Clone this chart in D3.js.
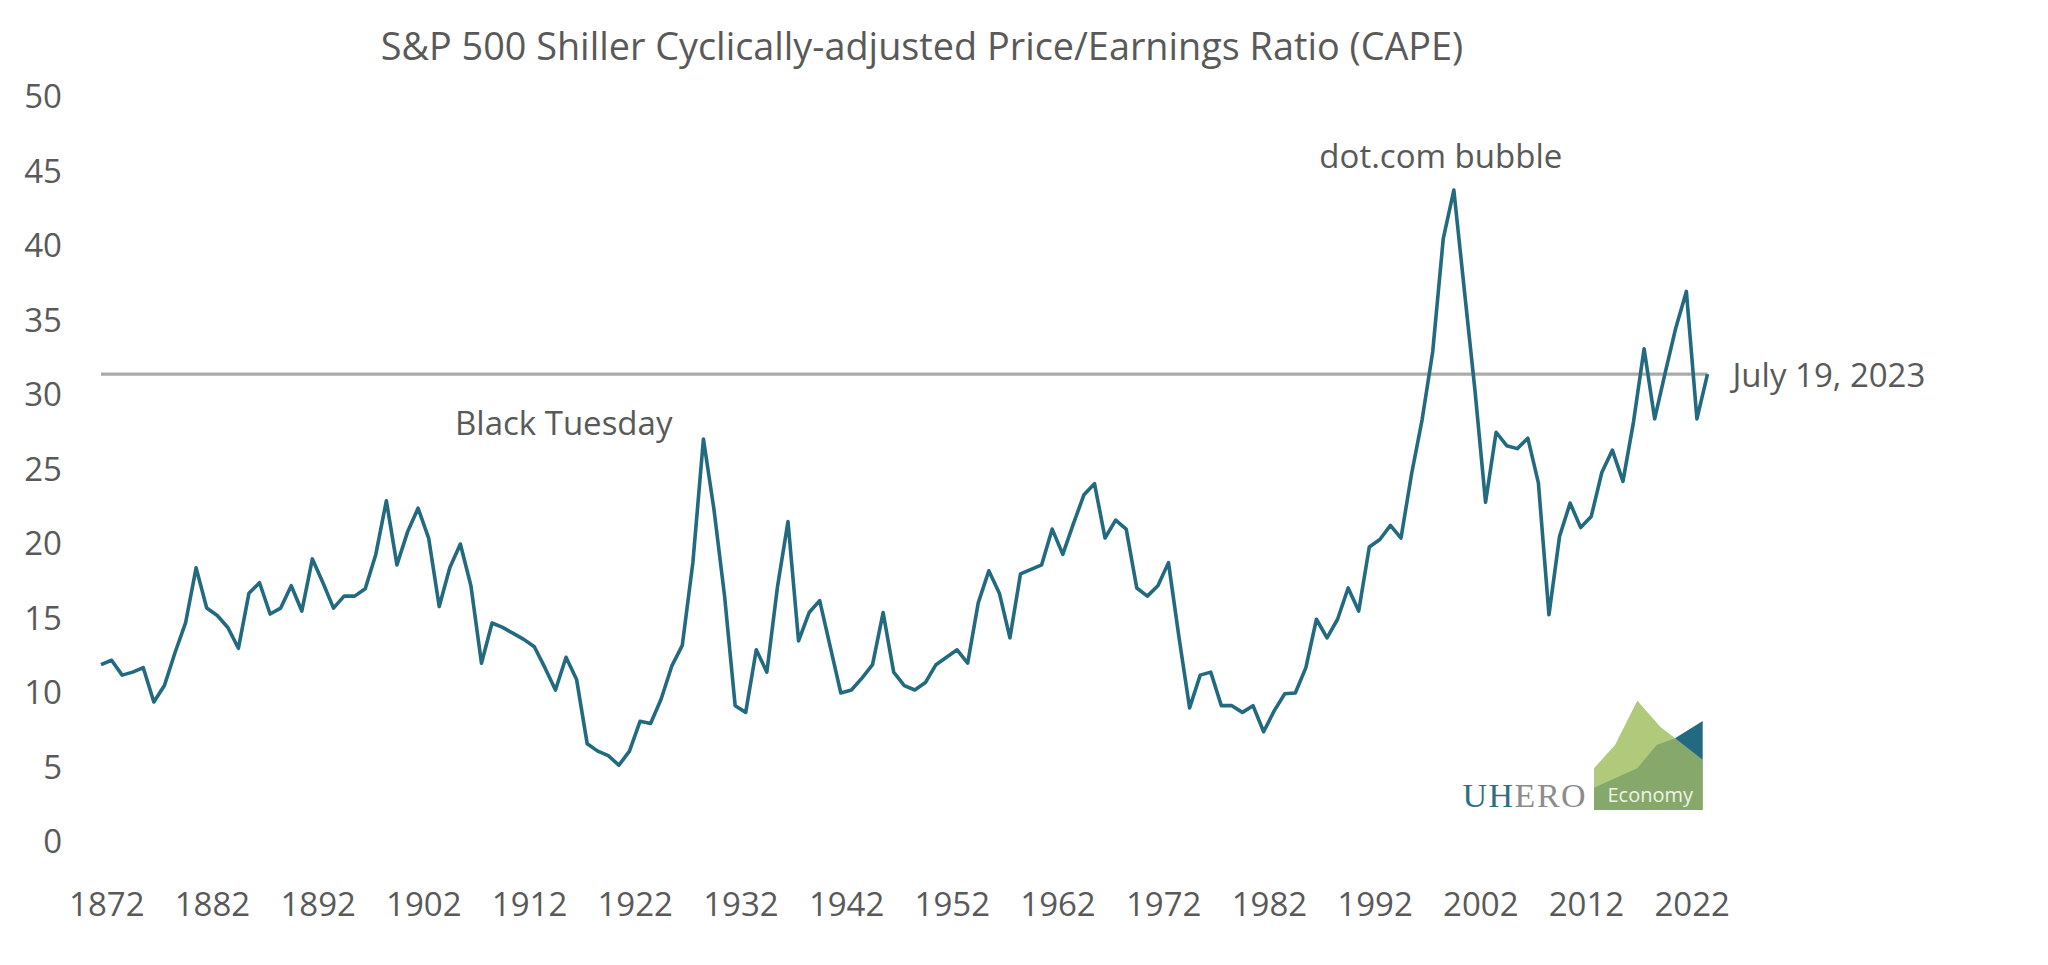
<!DOCTYPE html>
<html><head><meta charset="utf-8">
<script src="https://cdn.jsdelivr.net/npm/d3@7"></script>
<style>
body{margin:0;background:#fff}
svg{display:block}
text{font-family:"Open Sans",sans-serif}
</style>
</head><body>
<svg id="chart" width="2048" height="965"></svg>
<script>
// ---- data ----
const years = d3.range(1872, 2024).map(String);
const categories = years.concat(["July 19, 2023"]);
const cape = [
  11.9, 12.2, 11.2, 11.4, 11.7, 9.4, 10.5, 12.7, 14.7, 18.4,
  15.7, 15.2, 14.4, 13.0, 16.7, 17.4, 15.3, 15.7, 17.2, 15.5,
  19.0, 17.4, 15.7, 16.5, 16.5, 17.0, 19.3, 22.9, 18.6, 20.8,
  22.4, 20.4, 15.8, 18.4, 20.0, 17.2, 12.0, 14.7, 14.4, 14.0,
  13.6, 13.1, 11.7, 10.2, 12.4, 10.9, 6.6, 6.1, 5.8, 5.15,
  6.1, 8.1, 7.95, 9.6, 11.8, 13.2, 18.75, 27.05, 22.3, 16.5,
  9.15, 8.7, 12.9, 11.4, 17.1, 21.5, 13.5, 15.4, 16.2, 13.1,
  10.0, 10.2, 11.0, 11.9, 15.4, 11.4, 10.5, 10.2, 10.7, 11.9,
  12.4, 12.9, 12.0, 16.05, 18.2, 16.7, 13.7, 18.0, 18.3, 18.6,
  21.0, 19.3, 21.35, 23.3, 24.05, 20.4, 21.6, 21.0, 17.05, 16.5,
  17.2, 18.75, 13.7, 9.0, 11.2, 11.4, 9.15, 9.15, 8.7, 9.15,
  7.4, 8.8, 9.95, 10.0, 11.7, 14.95, 13.7, 14.95, 17.05, 15.5,
  19.8, 20.3, 21.25, 20.4, 24.7, 28.35, 32.9, 40.5, 43.75, 37.0,
  30.3, 22.8, 27.5, 26.6, 26.4, 27.1, 24.1, 15.25, 20.5, 22.75,
  21.1, 21.85, 24.8, 26.3, 24.2, 28.2, 33.1, 28.4, 31.5, 34.5,
  36.95, 28.4,
  31.4
];
const yTicks = [0, 5, 10, 15, 20, 25, 30, 35, 40, 45, 50];
const xTickLabels = ["1872","1882","1892","1902","1912","1922","1932","1942","1952","1962","1972","1982","1992","2002","2012","2022"];
const title = "S&P 500 Shiller Cyclically-adjusted Price/Earnings Ratio (CAPE)";
const blackTuesdayLabel = "Black Tuesday";
const blackTuesdayYear = "1929";
const dotcomLabel = "dot.com bubble";
const dotcomYear = "2000";

// ---- drawing ----
const svg = d3.select("#chart");
const textColor = "#595959";
const lineColor = "#226a80";

const x = d3.scaleLinear().domain([0, categories.length - 1]).range([101, 1707.5]);
const y = d3.scaleLinear().domain([0, 50]).range([842, 97]);

svg.append("rect").attr("width", 2048).attr("height", 965).attr("fill", "#fff");

// title
svg.append("text")
  .attr("x", 922).attr("y", 60)
  .attr("text-anchor", "middle")
  .attr("font-size", "37.8px")
  .attr("fill", textColor)
  .text(title);

// y axis
const yAxis = svg.append("g").attr("transform", "translate(62,0)")
  .call(d3.axisLeft(y).tickValues(yTicks).tickSize(0).tickPadding(0).tickFormat(d3.format("d")));
yAxis.select(".domain").remove();
yAxis.selectAll("text").attr("font-size", "33px").attr("fill", textColor)
  .style("font-family", '"Open Sans", sans-serif');

// x axis (labels centred half a category to the right of the point)
const xAxis = svg.append("g").attr("transform", "translate(0,893)")
  .call(d3.axisBottom(x)
    .tickValues(xTickLabels.map(l => categories.indexOf(l) + 0.5))
    .tickFormat(v => categories[Math.floor(v)])
    .tickSize(0).tickPadding(0));
xAxis.select(".domain").remove();
xAxis.selectAll("text").attr("font-size", "33px").attr("fill", textColor)
  .style("font-family", '"Open Sans", sans-serif');

// reference line at latest value
const last = cape.length - 1;
svg.append("line")
  .attr("x1", x(0)).attr("x2", x(last))
  .attr("y1", y(cape[last])).attr("y2", y(cape[last]))
  .attr("stroke", "#ababab").attr("stroke-width", 3.2);

// series line
const line = d3.line().x((d, i) => x(i)).y(d => y(d));
svg.append("path")
  .datum(cape)
  .attr("d", line)
  .attr("fill", "none")
  .attr("stroke", lineColor)
  .attr("stroke-width", 3.6)
  .attr("stroke-linejoin", "round");

// annotations
const iBT = categories.indexOf(blackTuesdayYear);
svg.append("text")
  .attr("x", x(iBT) - 31).attr("y", y(cape[iBT]) - 4)
  .attr("text-anchor", "end").attr("font-size", "33px").attr("fill", textColor)
  .text(blackTuesdayLabel);

const iDC = categories.indexOf(dotcomYear);
svg.append("text")
  .attr("x", x(iDC) - 13).attr("y", y(cape[iDC]) - 22)
  .attr("text-anchor", "middle").attr("font-size", "33px").attr("fill", textColor)
  .text(dotcomLabel);

svg.append("text")
  .attr("x", x(last) + 25).attr("y", y(cape[last]) + 13)
  .attr("text-anchor", "start").attr("font-size", "33px").attr("fill", textColor)
  .text(categories[last]);

// logo
const logo = svg.append("g").attr("transform", "translate(1594,700)");
const poly = pts => "M" + pts.map(p => p.join(",")).join("L") + "Z";
logo.append("path").attr("d", poly([[0,68.3],[21,45],[43.3,0.7],[66.7,27.3],[81,38.3],[108.7,60],[108.7,110],[0,110]]))
  .attr("fill", "#b1c97b");
logo.append("path").attr("d", poly([[0,87.7],[43.3,68.3],[62.7,45],[81,38.3],[108.7,60],[108.7,110],[0,110]]))
  .attr("fill", "#86a86a");
logo.append("path").attr("d", poly([[81,38.3],[108.7,21],[108.7,60]]))
  .attr("fill", "#236a80");
logo.append("text").attr("x", 13.5).attr("y", 101.7)
  .attr("font-size", "20px").attr("fill", "#eef3e6")
  .text("Economy");
const uhero = svg.append("text").attr("x", 1462.5).attr("y", 806.7)
  .style("font-family", '"Liberation Serif", "DejaVu Serif", serif')
  .attr("font-size", "34px").attr("letter-spacing", "1.5px");
uhero.append("tspan").attr("fill", "#2d6c84").text("UH");
uhero.append("tspan").attr("fill", "#8c8c8c").text("ERO");
</script>
</body></html>
